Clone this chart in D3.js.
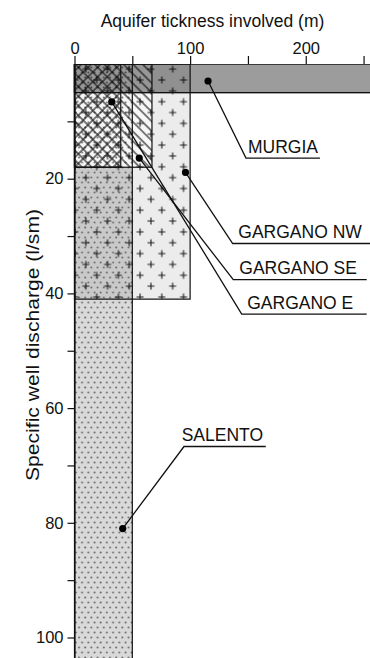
<!DOCTYPE html>
<html><head><meta charset="utf-8">
<script src="https://cdn.jsdelivr.net/npm/d3@7"></script>
<style>
html,body{margin:0;padding:0;background:#fff;}
svg{display:block;font-family:"Liberation Sans",Arial,Helvetica,sans-serif;}
</style></head><body>
<svg id="chart" width="370" height="658"></svg>
<script>
// ---- data ----
const aquifers = ["SALENTO", "GARGANO NW", "GARGANO SE", "GARGANO E", "MURGIA"];
const thicknessMin = [0, 0, 0, 0, 0];
const thicknessMax = [50, 100, 67, 40, 270];
const dischargeMin = [0, 0, 0, 0, 0];
const dischargeMax = [110, 41, 18, 18, 5];

const thicknessTicks = [0, 50, 100, 150, 200, 250];
const thicknessLabels = [0, 100, 200];
const dischargeTicks = [10, 20, 30, 40, 50, 60, 70, 80, 90, 100];
const dischargeLabels = [20, 40, 60, 80, 100];

// annotations (data units)
const labelNames = ["MURGIA", "GARGANO NW", "GARGANO SE", "GARGANO E", "SALENTO"];
const dotThickness = [115.5, 96, 56, 32.2, 41.7];
const dotDischarge = [2.96, 18.9, 16.4, 6.6, 81];
const elbowThickness = [148.3, 136.8, 137.3, 144.6, 94.7];
const elbowDischarge = [16.4, 31.3, 37.6, 43.6, 66.7];
const underlineEnd = [212.3, 256, 252.7, 252.7, 165.4];
const textStart = [150, 141.7, 142.5, 149.4, 92.7];

// ---- chart ----
const W = 370, H = 658;
const svg = d3.select("#chart");
const x = d3.scaleLinear().domain([0, 256]).range([74.5, 370.5]);
const y = d3.scaleLinear().domain([0, 100]).range([64, 637.5]);

const defs = svg.append("defs");
defs.append("clipPath").attr("id", "clip").append("rect")
  .attr("x", 0).attr("y", y(0)).attr("width", W).attr("height", H - y(0));

// plus pattern
const pp = defs.append("pattern").attr("id", "plus").attr("patternUnits", "userSpaceOnUse")
  .attr("x", 85.85).attr("y", 69.15).attr("width", 21.7).attr("height", 21.7);
[[10.85, 10.85], [0, 0], [21.7, 0], [0, 21.7], [21.7, 21.7]].forEach(([cx, cy]) => {
  pp.append("path").attr("d", `M${cx - 3.5},${cy}H${cx + 3.5}M${cx},${cy - 3.5}V${cy + 3.5}`)
    .attr("stroke", "#1a1a1a").attr("stroke-width", 1.1).attr("fill", "none");
});
// dots pattern
const dp = defs.append("pattern").attr("id", "dots").attr("patternUnits", "userSpaceOnUse")
  .attr("width", 6.2).attr("height", 10);
[[1.5, 2.5], [4.6, 7.5]].forEach(([cx, cy]) => {
  dp.append("circle").attr("cx", cx).attr("cy", cy).attr("r", 1.0).attr("fill", "#6a6a6a");
});
// hatch patterns
function hatch(id, angle) {
  const p = defs.append("pattern").attr("id", id).attr("patternUnits", "userSpaceOnUse")
    .attr("width", 6.8).attr("height", 6.8).attr("patternTransform", `rotate(${angle})`);
  p.append("line").attr("x1", 1).attr("x2", 1).attr("y1", 0).attr("y2", 6.8)
    .attr("stroke", "#111").attr("stroke-width", 1.1);
}
hatch("hatchBack", -45);
hatch("hatchFwd", 45);

const styleFill = {"SALENTO": "#d9d9d9", "GARGANO NW": "#ececec", "GARGANO SE": "#f6f6f6", "GARGANO E": "none", "MURGIA": "#9c9c9c"};
const stylePattern = {"SALENTO": "url(#dots)", "GARGANO NW": "url(#plus)", "GARGANO SE": "url(#hatchBack)", "GARGANO E": "url(#hatchFwd)", "MURGIA": "none"};
const blend = {"SALENTO": "normal", "GARGANO NW": "multiply", "GARGANO SE": "normal", "GARGANO E": "normal", "MURGIA": "multiply"};

const recs = aquifers.map((name, i) => ({
  name, x0: thicknessMin[i], x1: thicknessMax[i], y0: dischargeMin[i], y1: dischargeMax[i]
}));
const get = n => recs.find(r => r.name === n);
function place(sel) {
  sel.attr("x", d => x(d.x0)).attr("y", d => y(d.y0))
    .attr("width", d => x(d.x1) - x(d.x0)).attr("height", d => y(d.y1) - y(d.y0));
}

const plot = svg.append("g").attr("clip-path", "url(#clip)");
// fills
plot.selectAll("rect.fill").data(["SALENTO", "GARGANO NW", "GARGANO SE"].map(get)).join("rect")
  .attr("class", "fill").call(place)
  .attr("fill", d => styleFill[d.name]).style("mix-blend-mode", d => blend[d.name]);
// patterns
plot.selectAll("rect.pat").data(["SALENTO", "GARGANO NW", "GARGANO SE", "GARGANO E"].map(get)).join("rect")
  .attr("class", "pat").call(place).attr("fill", d => stylePattern[d.name]);
// murgia
plot.selectAll("rect.mur").data([get("MURGIA")]).join("rect").attr("class", "mur").call(place)
  .attr("fill", d => styleFill[d.name]).style("mix-blend-mode", "multiply");
// outlines
plot.selectAll("rect.out").data(recs).join("rect").attr("class", "out").call(place)
  .attr("fill", "none").attr("stroke", "#111").attr("stroke-width", d => d.name === "MURGIA" ? 1.4 : 1.2);

// axes
const fmtX = d => thicknessLabels.includes(d) ? d : "";
const xAxis = svg.append("g").attr("transform", `translate(0,${y(0)})`)
  .call(d3.axisTop(x).tickValues(thicknessTicks).tickSize(8).tickSizeOuter(0).tickPadding(2).tickFormat(fmtX));
xAxis.select(".domain").remove();
xAxis.selectAll(".tick line").attr("stroke", "#111").attr("stroke-width", 1.2);
xAxis.selectAll("text").attr("font-size", 16.5).attr("fill", "#111").attr("font-family", null);

const fmtY = d => dischargeLabels.includes(d) ? d : "";
const yAxis = svg.append("g").attr("transform", `translate(${x(0)},0)`)
  .call(d3.axisLeft(d3.scaleLinear().domain([0, (H - 64) / 5.735]).range([64, H]))
    .tickValues(dischargeTicks).tickSize(7).tickSizeOuter(0).tickPadding(4).tickFormat(fmtY));
yAxis.select(".domain").attr("stroke", "#111").attr("stroke-width", 1.2);
yAxis.selectAll(".tick line").attr("stroke", "#111").attr("stroke-width", 1.2);
yAxis.selectAll("text").attr("font-size", 16.5).attr("fill", "#111").attr("font-family", null);

// titles
svg.append("text").attr("x", 212.5).attr("y", 27).attr("text-anchor", "middle")
  .attr("font-size", 17.5).attr("fill", "#111").text("Aquifer tickness involved (m)");
svg.append("text").attr("transform", "translate(39,345) rotate(-90)").attr("text-anchor", "middle")
  .attr("font-size", 17.5).attr("fill", "#111")
  .attr("textLength", 272).attr("lengthAdjust", "spacingAndGlyphs")
  .text("Specific well discharge (l/sm)");

// annotations
const ann = svg.append("g");
labelNames.forEach((name, i) => {
  const g = ann.append("g");
  g.append("path")
    .attr("d", `M${x(dotThickness[i])},${y(dotDischarge[i])}L${x(elbowThickness[i])},${y(elbowDischarge[i])}H${x(underlineEnd[i])}`)
    .attr("fill", "none").attr("stroke", "#111").attr("stroke-width", 1.3);
  g.append("circle").attr("cx", x(dotThickness[i])).attr("cy", y(dotDischarge[i])).attr("r", 3.6).attr("fill", "#000");
  g.append("text").attr("x", x(textStart[i])).attr("y", y(elbowDischarge[i]) - 5.5)
    .attr("font-size", 17.5).attr("fill", "#111").text(name);
});
</script>
</body></html>
